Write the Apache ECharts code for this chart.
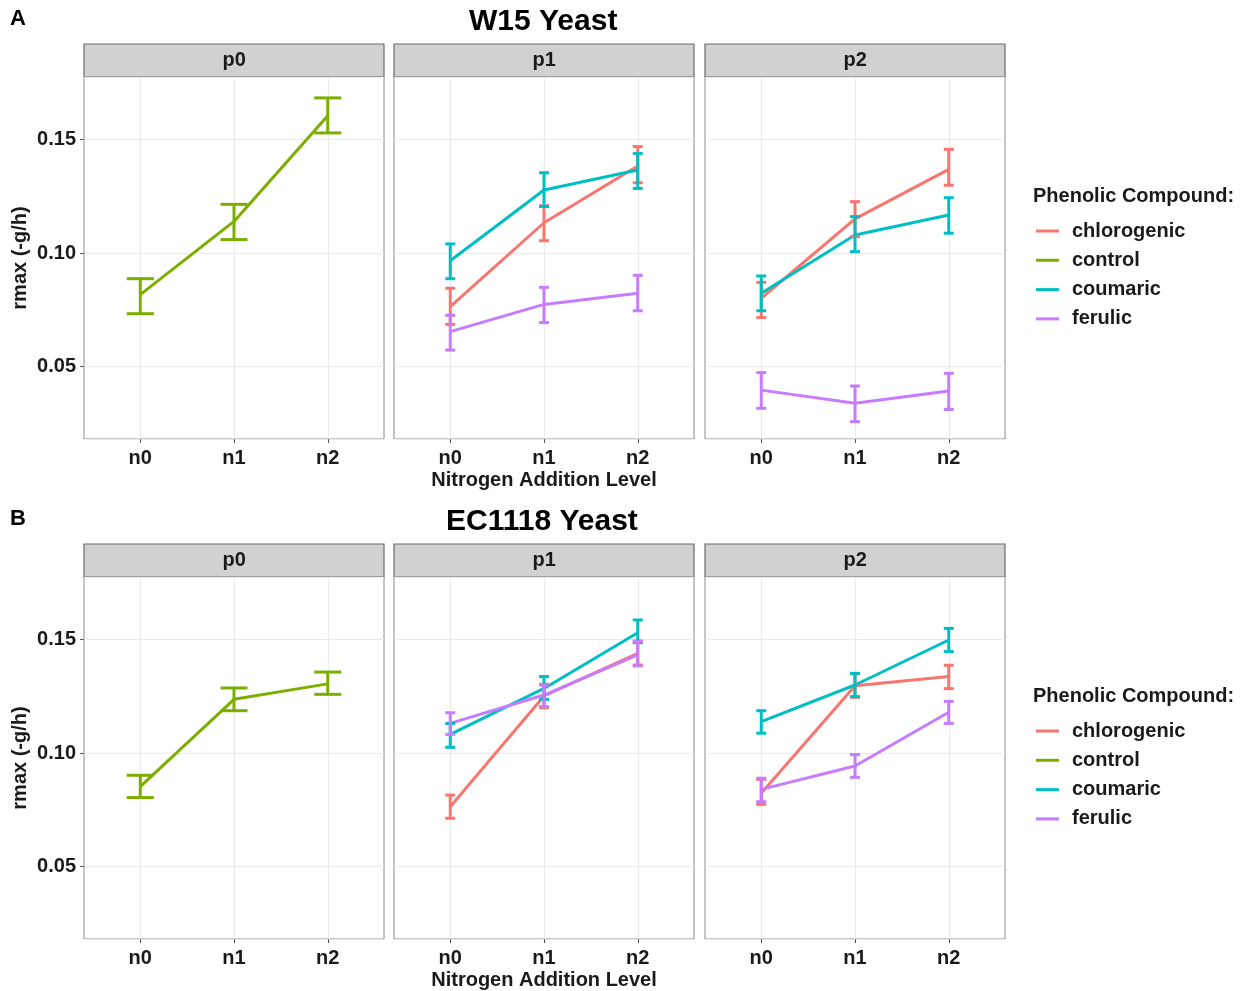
<!DOCTYPE html>
<html>
<head>
<meta charset="utf-8">
<script src="https://cdn.jsdelivr.net/npm/echarts@6/dist/echarts.min.js"></script>
<style>
  html, body { margin: 0; padding: 0; background: #fff; }
  #chart { width: 1242px; height: 991px; }
</style>
</head>
<body>
<div id="chart"></div>
<script>
// categories
var nLevels = ['n0', 'n1', 'n2'];
var facetNames = ['p0', 'p1', 'p2'];
var compoundNames = ['chlorogenic', 'control', 'coumaric', 'ferulic'];
var yeastTitles = ['W15 Yeast', 'EC1118 Yeast'];
var panelTags = ['A', 'B'];

// rows are [mean, error bar low, error bar high] for n0, n1, n2
// W15
var w15P0Control     = [[0.0817, 0.0733, 0.0887], [0.1139, 0.1059, 0.1214], [0.1604, 0.1528, 0.1682]];
var w15P1Chlorogenic = [[0.0764, 0.0686, 0.0845], [0.1133, 0.1054, 0.1208], [0.1383, 0.1309, 0.1468]];
var w15P1Coumaric    = [[0.0966, 0.0887, 0.1040], [0.1277, 0.1204, 0.1353], [0.1365, 0.1284, 0.1438]];
var w15P1Ferulic     = [[0.0654, 0.0573, 0.0726], [0.0774, 0.0694, 0.0849], [0.0823, 0.0746, 0.0902]];
var w15P2Chlorogenic = [[0.0801, 0.0716, 0.0871], [0.1150, 0.1072, 0.1226], [0.1368, 0.1298, 0.1456]];
var w15P2Coumaric    = [[0.0823, 0.0746, 0.0899], [0.1079, 0.1006, 0.1160], [0.1167, 0.1087, 0.1243]];
var w15P2Ferulic     = [[0.0397, 0.0317, 0.0474], [0.0339, 0.0258, 0.0415], [0.0393, 0.0312, 0.0471]];
// EC1118
var ecP0Control      = [[0.0852, 0.0804, 0.0902], [0.1236, 0.1186, 0.1286], [0.1304, 0.1258, 0.1356]];
var ecP1Chlorogenic  = [[0.0764, 0.0713, 0.0815], [0.1251, 0.1199, 0.1302], [0.1438, 0.1387, 0.1493]];
var ecP1Coumaric     = [[0.1082, 0.1025, 0.1130], [0.1284, 0.1236, 0.1336], [0.1529, 0.1485, 0.1585]];
var ecP1Ferulic      = [[0.1130, 0.1082, 0.1177], [0.1255, 0.1204, 0.1299], [0.1431, 0.1383, 0.1490]];
var ecP2Chlorogenic  = [[0.0823, 0.0774, 0.0884], [0.1296, 0.1245, 0.1350], [0.1336, 0.1283, 0.1386]];
var ecP2Coumaric     = [[0.1138, 0.1087, 0.1186], [0.1299, 0.1248, 0.1350], [0.1497, 0.1446, 0.1548]];
var ecP2Ferulic      = [[0.0840, 0.0786, 0.0889], [0.0943, 0.0893, 0.0993], [0.1179, 0.1130, 0.1227]];

// [facet index, compound, rows] per yeast
var w15Groups = [
    [0, 'control', w15P0Control],
    [1, 'chlorogenic', w15P1Chlorogenic], [1, 'coumaric', w15P1Coumaric], [1, 'ferulic', w15P1Ferulic],
    [2, 'chlorogenic', w15P2Chlorogenic], [2, 'coumaric', w15P2Coumaric], [2, 'ferulic', w15P2Ferulic]
];
var ecGroups = [
    [0, 'control', ecP0Control],
    [1, 'chlorogenic', ecP1Chlorogenic], [1, 'coumaric', ecP1Coumaric], [1, 'ferulic', ecP1Ferulic],
    [2, 'chlorogenic', ecP2Chlorogenic], [2, 'coumaric', ecP2Coumaric], [2, 'ferulic', ecP2Ferulic]
];
var yeastGroups = [w15Groups, ecGroups];

// styles / layout
var colors = {chlorogenic: '#F8766D', control: '#7CAE00', coumaric: '#00BFC4', ferulic: '#C77CFF'};
var FONT = '"Liberation Sans", Arial, sans-serif';
var panelLeft = [84, 394, 705];
var panelTop = [77, 577];
var panelW = 300, panelH = 362, stripH = 33;
var padX = 56.25;           // ggplot discrete expansion (0.6 of a step)
var yMin = 0.0182, yMax = 0.1774;
var capHalf = [13.5, 5, 5]; // error bar cap half width per facet
var titleLeft = [469, 446];
var LW = 3;

var chart = echarts.init(document.getElementById('chart'));

var grids = [], xAxes = [], yAxes = [], series = [], graphics = [], titles = [];

function errorBarRender(half) {
    return function (params, api) {
        var x = api.value(0);
        var pLo = api.coord([x, api.value(1)]);
        var pHi = api.coord([x, api.value(2)]);
        var st = {stroke: api.visual('color'), lineWidth: LW};
        return {
            type: 'group',
            children: [
                {type: 'line', shape: {x1: pLo[0], y1: pLo[1], x2: pHi[0], y2: pHi[1]}, style: st},
                {type: 'line', shape: {x1: pLo[0] - half, y1: pLo[1], x2: pLo[0] + half, y2: pLo[1]}, style: st},
                {type: 'line', shape: {x1: pHi[0] - half, y1: pHi[1], x2: pHi[0] + half, y2: pHi[1]}, style: st}
            ]
        };
    };
}

function bold(size, extra) {
    var s = {fontFamily: FONT, fontSize: size, fontWeight: 'bold', color: '#1a1a1a'};
    for (var k in extra) s[k] = extra[k];
    return s;
}

for (var r = 0; r < 2; r++) {
    var rowTop = panelTop[r];
    for (var f = 0; f < 3; f++) {
        var g = r * 6 + f * 2;
        // outer grid: panel border + y scale
        grids.push({left: panelLeft[f], top: rowTop, width: panelW, height: panelH,
            show: true, borderColor: '#8c8c8c', borderWidth: 1, backgroundColor: 'transparent'});
        xAxes.push({gridIndex: g, type: 'value', min: 0, max: 1, show: false});
        var yAx = {
            gridIndex: g, type: 'value', min: yMin, max: yMax, splitNumber: 3,
            axisLine: {show: false},
            axisTick: {show: f === 0, length: 4, lineStyle: {color: '#555'}},
            axisLabel: bold(20, {show: f === 0, showMinLabel: false, showMaxLabel: false, margin: 8,
                formatter: function (v) { return v.toFixed(2); }}),
            splitLine: {show: true, lineStyle: {color: '#EBEBEB', width: 1.2}}
        };
        if (f === 0) {
            yAx.name = 'rmax (-g/h)';
            yAx.nameLocation = 'middle';
            yAx.nameRotate = 90;
            yAx.nameGap = 54;
            yAx.nameTextStyle = bold(20);
        }
        yAxes.push(yAx);
        // inner grid: category positions n0..n2
        grids.push({left: panelLeft[f] + padX, top: rowTop, width: panelW - 2 * padX, height: panelH});
        var xAx = {
            gridIndex: g + 1, type: 'value', min: 0, max: 2, interval: 1,
            axisLine: {show: false},
            axisTick: {show: true, length: 4, lineStyle: {color: '#555'}},
            axisLabel: bold(20, {margin: 9, formatter: function (v) { return nLevels[v]; }}),
            splitLine: {show: true, lineStyle: {color: '#EBEBEB', width: 1.2}}
        };
        if (f === 1) {
            xAx.name = 'Nitrogen Addition Level';
            xAx.nameLocation = 'middle';
            xAx.nameGap = 31;
            xAx.nameTextStyle = bold(20);
        }
        xAxes.push(xAx);
        yAxes.push({gridIndex: g + 1, type: 'value', min: yMin, max: yMax, show: false});

        // facet strip
        graphics.push({type: 'rect', z: 0,
            shape: {x: panelLeft[f], y: rowTop - stripH, width: panelW, height: stripH},
            style: {fill: '#D1D1D1', stroke: '#6b6b6b', lineWidth: 1.2}});
        titles.push({text: facetNames[f], left: panelLeft[f] + panelW / 2 - 11.5, top: rowTop - stripH / 2 - 10,
            padding: 0, z: 20, textStyle: bold(20, {lineHeight: 20})});
    }

    var groups = yeastGroups[r];
    // lines first, so legend takes its look from them
    groups.forEach(function (grp) {
        var gi = r * 6 + grp[0] * 2 + 1;
        series.push({
            name: grp[1], type: 'line', xAxisIndex: gi, yAxisIndex: gi,
            data: grp[2].map(function (row, i) { return [i, row[0]]; }),
            symbol: 'none', z: 3,
            itemStyle: {color: colors[grp[1]]},
            lineStyle: {color: colors[grp[1]], width: LW}
        });
    });
    groups.forEach(function (grp) {
        var gi = r * 6 + grp[0] * 2 + 1;
        series.push({
            name: grp[1], type: 'custom', xAxisIndex: gi, yAxisIndex: gi,
            data: grp[2].map(function (row, i) { return [i, row[1], row[2]]; }),
            renderItem: errorBarRender(capHalf[grp[0]]), z: 4, clip: false,
            itemStyle: {color: colors[grp[1]]}
        });
    });

    titles.push({text: yeastTitles[r], left: titleLeft[r], top: rowTop - 70, padding: 0,
        textStyle: bold(30, {color: '#000', lineHeight: 30})});
    titles.push({text: panelTags[r], left: 10, top: rowTop - 69, padding: 0,
        textStyle: bold(22, {color: '#000', lineHeight: 22})});
    titles.push({text: 'Phenolic Compound:', left: 1033, top: rowTop + 109, padding: 0,
        textStyle: bold(20, {lineHeight: 20})});
}

var legends = panelTop.map(function (t) {
    return {
        top: t + 139, left: 1031, orient: 'vertical',
        icon: 'rect', itemWidth: 23, itemHeight: 3, itemGap: 9.3,
        selectedMode: false,
        textStyle: bold(20, {lineHeight: 20, padding: [0, 0, 0, 8]}),
        data: compoundNames
    };
});

chart.setOption({
    backgroundColor: '#fff',
    animation: false,
    title: titles,
    grid: grids,
    xAxis: xAxes,
    yAxis: yAxes,
    legend: legends,
    series: series,
    graphic: {elements: graphics}
});
</script>
</body>
</html>
